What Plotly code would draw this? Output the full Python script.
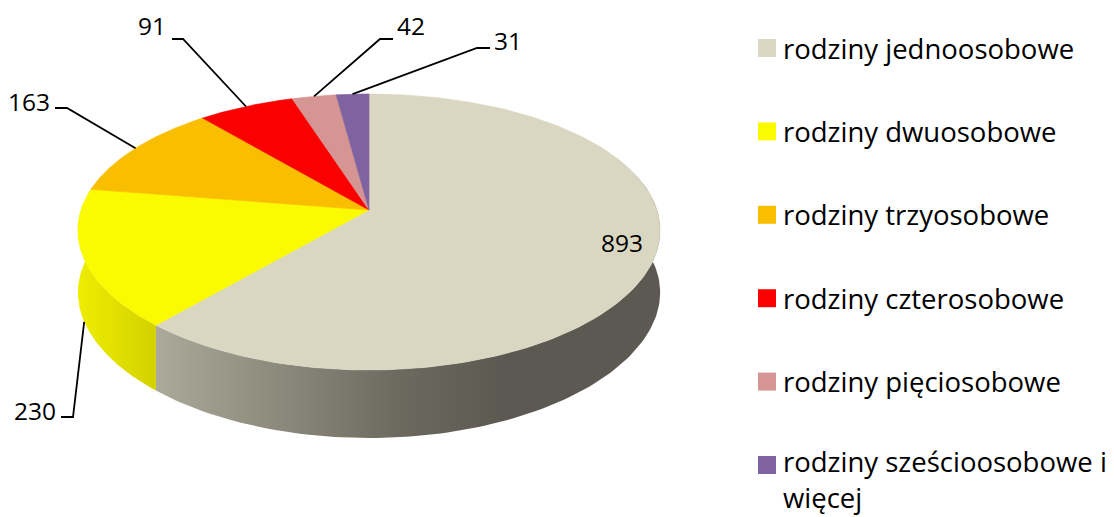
import numpy as np
import plotly.graph_objects as go

# ---------------- data ----------------
categories = [
    "rodziny jednoosobowe",
    "rodziny dwuosobowe",
    "rodziny trzyosobowe",
    "rodziny czterosobowe",
    "rodziny pięciosobowe",
    "rodziny sześcioosobowe i<br>więcej",
]
values = [893, 230, 163, 91, 42, 31]

# ---------------- styles ----------------
top_colors = ["#D9D6C1", "#FAFA00", "#FABE00", "#FA0000", "#D59593", "#7F63A0"]
side_scales = {
    0: [[0, "rgb(173,171,154)"], [0.4, "rgb(137,135,121)"], [0.7, "rgb(109,107,96)"], [1, "rgb(91,89,81)"]],
    1: [[0, "rgb(238,238,0)"], [1, "rgb(212,210,0)"]],
}
side_ranges = {0: (150, 500), 1: (76, 155)}
FONT = "Open Sans"
FS_LEG = 27.5
FS_LAB = 24.5

# projection of the tilted disc (layout geometry)
CX, CY, RX, RY, BULGE, PERSP = 369, 210, 288, 138, 22, 0.15


def proj(theta_deg):
    th = np.radians(theta_deg)
    u, v = np.sin(th), -np.cos(th)
    x = CX + RX * u * (1 + PERSP * v)
    y = CY + RY * v + BULGE * v ** 2
    return x, y, v


def depth(v):
    return 62 + 6 * v ** 2


total = sum(values)
bounds = np.concatenate([[0], np.cumsum(values) / total * 360])

fig = go.Figure()

# ---- side walls (only the front part is visible) ----
for i in range(len(values)):
    a0, a1 = max(bounds[i], 75), min(bounds[i + 1], 285)
    if a1 <= a0:
        continue
    th = np.linspace(a0, a1, 120)
    x, y, v = proj(th)
    yb = y + depth(v)
    px = np.concatenate([x, x[::-1]])
    py = np.concatenate([y, yb[::-1]])
    s0, s1 = side_ranges.get(i, (x.min(), x.max()))
    fig.add_trace(go.Scatter(
        x=px, y=py, mode="lines", fill="toself",
        line=dict(width=0, color="rgba(0,0,0,0)"),
        fillgradient=dict(type="horizontal", colorscale=side_scales.get(i, [[0, top_colors[i]], [1, top_colors[i]]]),
                          start=s0, stop=s1),
        hoverinfo="skip", showlegend=False,
    ))

# ---- top face slices ----
for i in range(len(values)):
    th = np.linspace(bounds[i], bounds[i + 1], 200)
    x, y, v = proj(th)
    px = np.concatenate([[CX], x, [CX]])
    py = np.concatenate([[CY], y, [CY]])
    fig.add_trace(go.Scatter(
        x=px, y=py, mode="lines", fill="toself", fillcolor=top_colors[i],
        line=dict(width=0.6, color=top_colors[i]),
        name=categories[i], hoverinfo="name", showlegend=False,
    ))

# ---- data labels with leader lines ----
# (elbow x, elbow y, end x, text x, text y, xanchor, on_side)
label_layout = [
    None,
    (73, 417, 61, 58, 410, "right", True),
    (67, 108, 55, 52, 101, "right", False),
    (183, 39, 172, 168, 25, "right", False),
    (380, 39, 393, 395, 25, "left", False),
    (477, 48, 490, 492, 40, "left", False),
]
annotations = []
for i, val in enumerate(values):
    mid = (bounds[i] + bounds[i + 1]) / 2
    if label_layout[i] is None:
        annotations.append(dict(x=622, y=242, text=str(val), showarrow=False,
                                font=dict(family=FONT, size=FS_LAB, color="#000"), xanchor="center", yanchor="middle"))
        continue
    ex, ey, hx, tx, ty, anc, on_side = label_layout[i]
    ax, ay, av = proj(mid)
    if on_side:
        ay = ay + depth(av)
    fig.add_trace(go.Scatter(x=[ax, ex, hx], y=[ay, ey, ey], mode="lines",
                             line=dict(color="#000", width=1.8), hoverinfo="skip", showlegend=False))
    annotations.append(dict(x=tx, y=ty, text=str(val), showarrow=False,
                            font=dict(family=FONT, size=FS_LAB, color="#000"), xanchor=anc, yanchor="middle"))

# ---- legend (manual) ----
shapes = []
for i, cat in enumerate(categories):
    yc = 48 + i * 83.4
    shapes.append(dict(type="rect", xref="x", yref="y", x0=758, x1=776, y0=yc - 9, y1=yc + 9,
                       fillcolor=top_colors[i], line=dict(width=0)))
    if "<br>" in cat:
        annotations.append(dict(x=781, y=yc - 24, text=cat, showarrow=False, align="left",
                                font=dict(family=FONT, size=FS_LEG, color="#000"), xanchor="left", yanchor="top"))
    else:
        annotations.append(dict(x=781, y=yc, text=cat, showarrow=False,
                                font=dict(family=FONT, size=FS_LEG, color="#000"), xanchor="left", yanchor="middle"))

# the page adds an 8px body margin, so the axes are offset to keep pixel positions
fig.update_layout(
    width=1106, height=509, autosize=False,
    margin=dict(l=0, r=0, t=0, b=0),
    paper_bgcolor="white", plot_bgcolor="white",
    xaxis=dict(range=[8, 1114], visible=False, fixedrange=True),
    yaxis=dict(range=[517, 8], visible=False, fixedrange=True),
    annotations=annotations, shapes=shapes, showlegend=False,
)

fig.write_html("out.html")
